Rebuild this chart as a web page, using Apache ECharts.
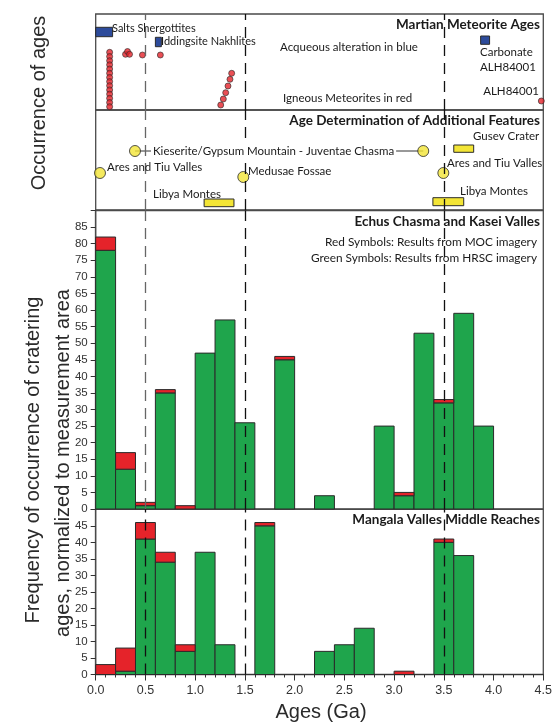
<!DOCTYPE html>
<html><head><meta charset="utf-8">
<script src="https://cdn.jsdelivr.net/npm/echarts@6/dist/echarts.min.js"></script>
<style>html,body{margin:0;padding:0;background:#fff}#c{width:559px;height:723px}</style>
</head><body><div id="c"></div>
<script>
// ---------- DATA ----------
const binStarts = [0.0,0.2,0.4,0.6,0.8,1.0,1.2,1.4,1.6,1.8,2.0,2.2,2.4,2.6,2.8,3.0,3.2,3.4,3.6,3.8];
const binWidth = 0.2;
// Echus Chasma and Kasei Valles (green = HRSC, total = HRSC + MOC)
const echusHRSC  = [78,12,1,35,0,47,57,26,0,45,0,4,0,0,25,4,53,32,59,25];
const echusTotal = [82,17,2,36,1,47,57,26,0,46,0,4,0,0,25,5,53,33,59,25];
// Mangala Valles Middle Reaches
const mangalaHRSC  = [0,1,41,34,7,37,9,0,45,0,0,7,9,14,0,0,0,40,36,0];
const mangalaTotal = [3,8,46,37,9,37,9,0,46,0,0,7,9,14,0,1,0,41,36,0];
const dashedAges = [0.5, 1.5, 3.5];
const xTickLabels = ['0.0','0.5','1.0','1.5','2.0','2.5','3.0','3.5','4.0','4.5'];

// Martian meteorite ages (top panel, level = arbitrary stacking height)
const igneousAges   = [0.14,0.14,0.14,0.14,0.14,0.14,0.14,0.14,0.14,0.14,0.14,0.14,0.14,0.14,
                       0.30,0.32,0.34,0.47,0.65,
                       1.367,1.35,1.33,1.307,1.283,1.257, 4.48];
const igneousLevels = [57.7,53.5,49.3,45.2,41,36.8,32.6,28.4,24.3,20.1,15.9,11.7,7.5,3.3,
                       55.7,58.5,55.7,55,55,
                       36.7,30.7,24,17.3,11,5, 9];
// aqueous alteration boxes: [ageFrom, ageTo, levelFrom, levelTo]
const aqueousBoxes = [[0,0.17,73.3,82.7],[0.60,0.66,63.3,72.7],[3.87,3.96,65.7,74]];

// Additional features
const featureAges   = [0.043,0.395,1.484,3.293,3.495];
const featureLevels = [37,59,33,59,37];
const featureBoxes  = [[3.60,3.80,57.7,65],[1.09,1.39,3.3,11],[3.39,3.70,4.3,12.3]];
const kieseriteLink = [[0.395,59],[3.293,59]];

// ---------- STYLE ----------
const GREEN = '#1fa54c', RED = '#e5232a', BLUE = '#2d4b9b', YELLOW = '#f3e536', EDGE = '#2a2a2a';
const L = 95.7, R = 559 - 543.3;
const txtFont = 'Lato';
const axFont = 'Liberation Sans';

function stackData(starts, green, total){
  const g = [], r = [];
  starts.forEach((s,i)=>{
    if(green[i] > 0) g.push([s, s+binWidth, 0, green[i]]);
    if(total[i] > green[i]) r.push([s, s+binWidth, green[i], total[i]]);
  });
  return {g, r};
}
const echus = stackData(binStarts, echusHRSC, echusTotal);
const mangala = stackData(binStarts, mangalaHRSC, mangalaTotal);

function rectRender(params, api){
  const p0 = api.coord([api.value(0), api.value(2)]);
  const p1 = api.coord([api.value(1), api.value(3)]);
  return {type:'rect', shape:{x:p0[0], y:p1[1], width:p1[0]-p0[0], height:p0[1]-p1[1]},
    style:{fill: api.visual('color'), stroke: EDGE, lineWidth: 1}};
}
function boxSeries(idx, data, color, z){
  return {type:'custom', xAxisIndex:idx, yAxisIndex:idx, renderItem:rectRender, data,
    encode:{x:[0,1], y:[2,3]}, itemStyle:{color}, z: z||3, silent:true};
}
function dashSeries(idx, grayHalf, z){
  return {type:'line', xAxisIndex:idx, yAxisIndex:idx, data:[], z: z, silent:true,
    markLine:{symbol:'none', silent:true, label:{show:false}, animation:false,
      data: dashedAges.map(v=>({xAxis:v, lineStyle:{color: (grayHalf && v===0.5)?'#666':'#111', width:1.3, type:[11,7]}}))}};
}
const grids = [
  {left:L, right:R, top:14, height:96},
  {left:L, right:R, top:110, height:100},
  {left:L, right:R, top:210.5, height:298.5},
  {left:L, right:R, top:509.3, height:165.2}
].map(g=>Object.assign(g,{show:true, borderColor:'#4a4a4a', borderWidth:1.3, containLabel:false}));

const xAxes = grids.map((g,i)=>({
  type:'value', gridIndex:i, min:0, max:4.5, interval:0.5, show: i===3,
  axisLine:{show:true, lineStyle:{color:'#333', width:1.2}},
  axisTick:{show:true, length:6, lineStyle:{color:'#333'}},
  minorTick:{show:true, splitNumber:5, length:3, lineStyle:{color:'#333'}},
  splitLine:{show:false},
  axisLabel:{fontFamily:axFont, fontSize:12.5, color:'#333', margin:10,
    formatter:(v)=>xTickLabels[Math.round(v/0.5)]}
}));
const yAxes = [
  {type:'value', gridIndex:0, min:0, max:96, show:false},
  {type:'value', gridIndex:1, min:0, max:100, show:false},
  {type:'value', gridIndex:2, min:0, max:90, interval:5},
  {type:'value', gridIndex:3, min:0, max:50, interval:5}
].map((a,i)=>Object.assign(a,{
  splitLine:{show:false},
  axisLine:{show:true, lineStyle:{color:'#4a4a4a', width:1.3}},
  axisTick:{show:true, length:5, lineStyle:{color:'#333'}},
  axisLabel:{fontFamily:axFont, fontSize:11.5, color:'#333', margin:8,
    formatter:(v)=> (i===2 && v===90) || (i===3 && v===50) ? '' : String(v)}
}));

const series = [
  dashSeries(0, true, 1), dashSeries(1, true, 1), dashSeries(2, true, 6), dashSeries(3, false, 6),
  // top panel
  boxSeries(0, aqueousBoxes, BLUE, 3),
  {type:'scatter', xAxisIndex:0, yAxisIndex:0, data: igneousAges.map((a,i)=>[a, igneousLevels[i]]),
   symbolSize:6, itemStyle:{color:RED, borderColor:EDGE, borderWidth:0.8}, z:4, silent:true},
  // second panel
  {type:'line', xAxisIndex:1, yAxisIndex:1, data:kieseriteLink, symbol:'none',
   lineStyle:{color:'#333', width:1}, z:2, silent:true},
  boxSeries(1, featureBoxes, YELLOW, 3),
  {type:'scatter', xAxisIndex:1, yAxisIndex:1, data: featureAges.map((a,i)=>[a, featureLevels[i]]),
   symbolSize:11, itemStyle:{color:YELLOW, borderColor:EDGE, borderWidth:1}, z:4, silent:true},
  // histograms
  boxSeries(2, echus.g, GREEN, 3), boxSeries(2, echus.r, RED, 3),
  boxSeries(3, mangala.g, GREEN, 3), boxSeries(3, mangala.r, RED, 3)
];

function T(text, x, y, opt){
  opt = opt || {};
  return {type:'text', x, y, z:100, rotation: opt.rot || 0,
    style:{text, fill: opt.color || '#1a1a1a', font: (opt.bold?'bold ':'') + (opt.size||11) + 'px ' + (opt.family||txtFont),
      textAlign: opt.align || 'left', textVerticalAlign:'middle',
      backgroundColor: opt.bg, padding: opt.bg ? [0,2] : 0}};
}
const graphics = [
  T('Martian Meteorite Ages', 540, 25, {bold:true, size:13.5, align:'right'}),
  T('Salts Shergottites', 112, 28.5),
  T('Iddingsite Nakhlites', 161, 41.5),
  T('Acqueous alteration in blue', 280, 47, {size:11.5}),
  T('Carbonate', 480, 52.5, {size:11.5}),
  T('ALH84001', 480, 67.5, {size:11.5}),
  T('ALH84001', 539, 91, {size:11.5, align:'right'}),
  T('Igneous Meteorites in red', 283, 98, {size:11.5}),
  T('Age Determination of Additional Features', 540, 121, {bold:true, size:13.5, align:'right'}),
  T('Gusev Crater', 473, 136, {size:11.5}),
  T('Kieserite/Gypsum Mountain - Juventae Chasma', 151, 151, {size:11.5, bg:'#fff'}),
  T('Ares and Tiu Valles', 107, 167, {size:11.5}),
  T('Medusae Fossae', 248, 171, {size:11.5}),
  T('Ares and Tiu Valles', 447, 163, {size:11.5}),
  T('Libya Montes', 153, 194, {size:11.5}),
  T('Libya Montes', 460, 191, {size:11.5}),
  T('Echus Chasma and Kasei Valles', 540, 222, {bold:true, size:13.5, align:'right'}),
  T('Red Symbols: Results from MOC imagery', 537, 242, {size:11.8, align:'right'}),
  T('Green Symbols: Results from HRSC imagery', 537, 258, {size:11.8, align:'right'}),
  T('Mangala Valles Middle Reaches', 540, 520, {bold:true, size:13.5, align:'right'}),
  T('Occurrence of ages', 39, 103, {size:20, family:axFont, rot:Math.PI/2, align:'center', color:'#2a2a2a'}),
  T('Frequency of occurrence of cratering', 33, 460, {size:20, family:axFont, rot:Math.PI/2, align:'center', color:'#2a2a2a'}),
  T('ages, normalized to measurement area', 63, 463, {size:20, family:axFont, rot:Math.PI/2, align:'center', color:'#2a2a2a'}),
  T('Ages (Ga)', 321, 712, {size:20, family:axFont, align:'center', color:'#2a2a2a'})
];

const chart = echarts.init(document.getElementById('c'), null, {renderer:'canvas'});
chart.setOption({
  animation:false, backgroundColor:'#fff',
  grid: grids, xAxis: xAxes, yAxis: yAxes, series, graphic: graphics
});
</script></body></html>
